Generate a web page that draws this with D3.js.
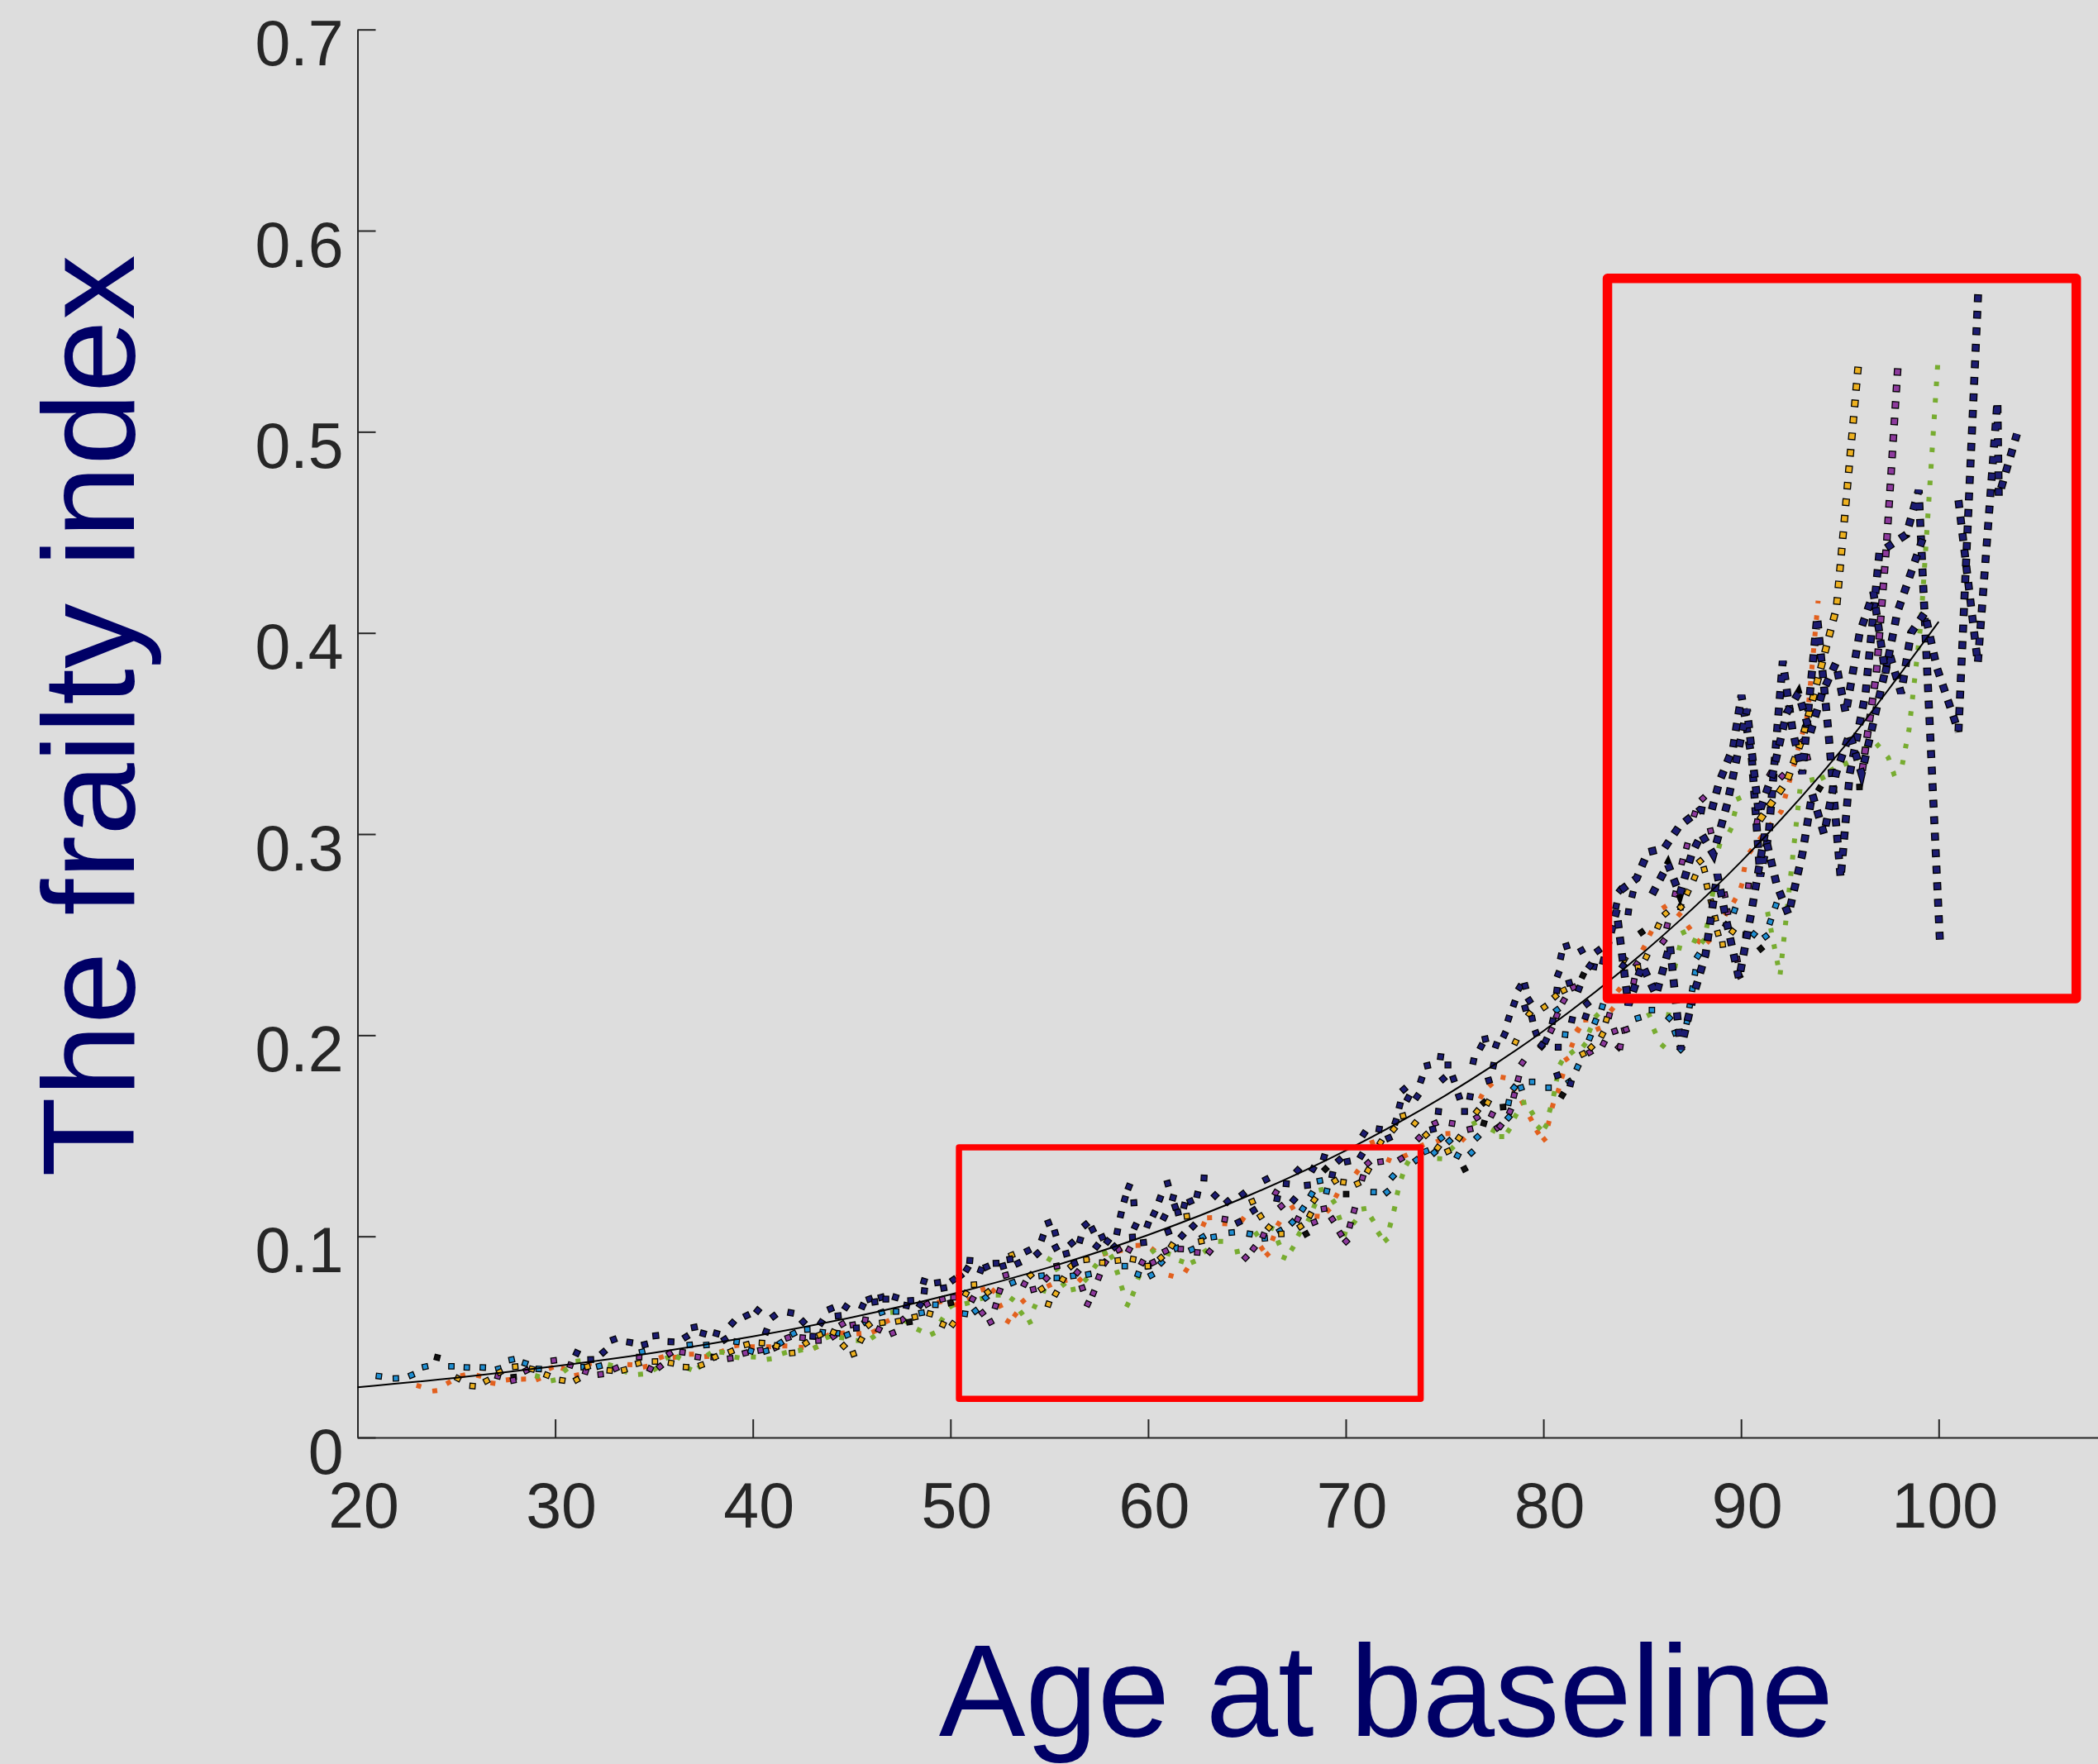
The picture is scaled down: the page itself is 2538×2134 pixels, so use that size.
<!DOCTYPE html>
<html>
<head>
<meta charset="utf-8">
<script src="https://cdn.jsdelivr.net/npm/d3@7"></script>
<style>
  html, body { margin: 0; padding: 0; background: #dddddd; }
  svg { display: block; }
</style>
</head>
<body>
<div id="chart"></div>
<script>
// [age, frailty index], one array per colour
const navyPts = [
  [31.09,.042],[31.8,.0387],[32.44,.0424],[32.96,.0487],[33.77,.0473],[34.53,.0462],[35.09,.0506],[35.86,.0476],[36.62,.05],[37.04,.0548],[37.49,.0517],[38.16,.0517],[38.58,.0487],[38.97,.0569],[39.69,.0606],[40.25,.0631],[40.67,.0526],[41.06,.0603],
  [41.92,.062],[42.55,.0575],[43.04,.0503],[43.46,.0571],[43.94,.064],[44.32,.0605],[44.71,.0649],[45.24,.0544],[45.55,.0653],[45.9,.0688],[46.17,.0674],[46.5,.0697],[46.73,.0688],[47.22,.0697],[47.78,.0656],[47.99,.0681],[48.47,.066],[48.66,.0777],[48.68,.0729],[49.35,.077],[49.66,.0743],[50.15,.0784],[50.5,.0804],[50.84,.0838],[50.98,.088],[51.54,.0832],[51.82,.0848],[52.31,.0866],[52.66,.0852],[53.01,.0886],[53.42,.0866],[53.91,.0928],[54.4,.0914],[54.65,.0993],[54.96,.1067],[55.3,.1017],[55.33,.0944],[55.86,.0914],[56.14,.0966],[56.28,.0866],[56.56,.0982],[56.84,.1058],[57.19,.1034],[57.4,.0951],[57.68,.0996],[57.95,.0975],[58.3,.0948],[58.44,.1023],[58.62,.1108],[58.82,.1185],[59.03,.1247],[59.28,.1167],[59.21,.0996],[59.35,.1051],[59.77,.0969],[59.98,.1058],[60.3,.1113],[60.6,.1188],[60.81,.1095],[60.99,.1263],[61.02,.1023],[61.26,.1192],[61.37,.1147],[61.51,.1119],[61.72,.1003],[61.83,.1154],[62.14,.1174],[62.28,.1051],[62.49,.1208],[62.83,.129],
  [63.39,.1203],[64.02,.1173],[64.58,.107],[64.79,.121],[65.34,.1129],[65.97,.1283],[66.53,.1188],[66.99,.1262],[67.37,.1181],[67.57,.1328],[68.06,.1254],[68.34,.1335],[68.9,.1394],[69.32,.1306],[69.67,.1379],[70.08,.1372],[70.78,.1401],[70.92,.151],[71.69,.1533],[72.18,.1489],[72.52,.157],[72.73,.1651],[72.94,.1731],[73.15,.1687],[73.61,.1695],[73.82,.1778],[74.13,.1849],[74.41,.1533],[74.69,.1621],[74.8,.1893],[74.93,.1783],[75.17,.1852],[75.45,.1783],[75.73,.1695],[76.01,.1621],[76.29,.1695],[76.46,.1871],[76.85,.1944],[77.06,.1981],[77.24,.1775],[77.47,.1849],[77.61,.1951],[78.03,.2003],[78.24,.2083],[78.52,.2157],[78.8,.2238],[79.08,.2245],[79.08,.2135],[79.29,.2172],[79.43,.2083],[79.63,.201],[79.91,.1951],[80.12,.1973],[80.47,.207],[80.68,.2223],[80.89,.2392],[81.17,.2443],[81.31,.226],[81.8,.2231],[81.93,.2421],[82.21,.2157],[82.56,.2341],[82.77,.2421],[83.19,.2385],[83.68,.2642],[83.89,.2722],
  [80.75,.2304],[80.75,.194],[80.71,.18],[81.38,.176],[81.45,.2077],[82.14,.2093],[82.35,.2345],[84.03,.2345],[84.3,.2613],[84.51,.27]
];
const navyChainA = [[83.9,.272],[84.72,.278],[85.28,.291],[86.12,.293],[86.88,.304],[87.93,.312],[88.49,.311],[88.9,.326],[89.6,.343],[90.02,.369],[90.55,.337],[90.97,.279],[91.4,.30],[92.11,.386],[92.6,.352],[93.1,.33],[93.85,.408],[94.41,.352],[95.04,.278],[95.5,.33],[96.3,.37],[97.0,.44],[98.37,.449],[98.99,.471],[100.07,.245]];
const navyChainB = [[83.0,.235],[83.7,.262],[84.3,.215],[85.0,.235],[85.7,.22],[86.4,.245],[86.95,.193],[87.6,.22],[88.2,.24],[88.8,.28],[89.3,.255],[89.9,.228],[90.5,.26],[91.2,.30],[91.8,.275],[92.4,.26],[93.1,.29],[93.6,.32],[94.2,.30],[94.8,.33],[95.5,.35],[96.1,.33],[96.8,.36],[97.5,.39],[98.1,.37],[98.6,.40],[99.3,.41],[99.9,.383],[101.0,.351],[102.0,.5695]];
const navyChainC = [[85.5,.27],[86.3,.285],[86.9,.27],[87.5,.29],[88.0,.30],[88.6,.29],[89.3,.315],[90.3,.362],[90.9,.31],[91.6,.33],[92.3,.36],[92.9,.37],[93.5,.35],[94.1,.37],[94.8,.385],[95.3,.36],[96.0,.40],[96.7,.42],[97.3,.38],[97.9,.41],[98.6,.43],[99.3,.45]];
const navyChainD = [[101.0,.466],[101.98,.385],[102.97,.515],[103.04,.468],[103.96,.499]];

const yellowPts = [
  [25.08,.0294],[25.82,.0256],[26.53,.0282],[27.2,.0325],[27.98,.0352],[28.82,.034],[29.58,.031],[30.36,.0284],[31.09,.0287],[31.63,.0352],[32.76,.0333],[33.49,.0336],[34.21,.0369],[35.05,.0378],[35.86,.037],[36.62,.035],[37.39,.036],[38.09,.04],[38.9,.0428],[39.69,.0462],[40.46,.047],[41.2,.0455],
  [41.99,.042],[42.69,.0469],[43.39,.051],[44.08,.0523],[44.6,.0455],[45.09,.0416],[45.48,.0486],[45.87,.056],[46.55,.0571],[47.36,.0578],[48.2,.0599],[48.96,.0615],[49.62,.0562],[50.12,.0564],[50.78,.0715],[51.19,.076],[51.89,.0722],[53.1,.0907],[54.05,.0807],[54.61,.0738],[54.96,.0663],[55.33,.0715],[55.68,.0786],[56.11,.0852],[56.88,.0884],[57.68,.0869],[58.47,.088],[59.24,.0886],[59.98,.0852],[60.65,.0893],[61.2,.0955],[61.96,.11],[62.69,.0976],
  [65.27,.1173],[65.69,.11],[66.11,.1044],[66.74,.1012],[67.71,.1049],[68.2,.1107],[68.41,.1181],[69.46,.1276],[69.88,.1269],[70.6,.1262],[71.13,.1328],[71.76,.1467],[72.43,.1533],[72.9,.1599],[73.5,.1562],[74.06,.1504],[74.66,.1441],[75.17,.1423],[75.73,.1489],[76.64,.1621],[77.19,.1665],[78.59,.1966],[79.29,.2106],[80.05,.214],[80.61,.2194],[81.03,.2223],[82.0,.1907],[82.42,.194],[82.98,.2003],[83.19,.2077],[84.1,.2377],
  [84.79,.2337],[85.21,.239],[85.81,.2543],[86.19,.2605],[86.95,.2637],[87.3,.271],[87.65,.2784],[87.93,.2865],[88.14,.2824],[88.28,.274],[88.49,.2662],[88.7,.2581],[88.83,.2507],[89.07,.2451],[89.57,.2516]
];
const yellowTail = [[90.93,.3068],[92.32,.3263],[93.16,.3494],[94.83,.4125],[95.94,.534]];

const purplePts = [
  [27.1,.0305],[27.88,.0284],[28.54,.0333],[29.93,.0383],[30.77,.036],[31.54,.0328],[32.3,.0314],[33.07,.0344],[34.25,.04],[34.81,.0341],[35.3,.0352],[35.79,.0417],[36.44,.0424],[37.22,.04],[38.02,.04],[38.86,.0393],[39.62,.042],[40.39,.0434],[41.16,.0448],
  [41.78,.0496],[42.52,.0496],[43.32,.0482],[44.08,.0503],[44.53,.0564],[45.06,.056],[45.69,.0585],[46.38,.0537],[47.08,.0519],[47.57,.0585],[48.82,.0663],[49.59,.0688],[50.15,.0697],[51.12,.0688],[51.61,.0619],[52.03,.0574],[52.28,.0654],[52.49,.0729],[52.8,.0807],[53.74,.0763],[54.19,.0736],[54.86,.0791],[55.38,.0852],[56.42,.0821],[56.67,.0743],[56.95,.0664],[57.23,.0718],[57.51,.0797],[57.82,.087],[58.51,.0934],[59.04,.0934],[59.7,.087],[60.25,.087],[60.88,.0927],[61.65,.0937],[62.49,.092],
  [63.11,.0924],[63.88,.1085],[64.93,.0894],[65.34,.094],[65.83,.1005],[66.46,.1217],[66.74,.115],[67.57,.1085],[68.41,.107],[68.9,.1137],[69.32,.1085],[69.74,.1012],[70.02,.0975],[70.22,.1056],[70.43,.1129],[70.85,.1291],[71.13,.1364],[71.76,.1371],[72.8,.1386],[73.71,.1489],[74.52,.1562],[75.38,.1562],[76.29,.1533],[76.64,.1591],[77.4,.1606],[77.68,.154],[77.82,.1548],[78.31,.1621],[78.52,.1702],[78.73,.1783],[78.94,.1863],[79.91,.1944],[80.4,.2025],[80.68,.2098],[81.03,.2172],[81.52,.2238],[82.35,.1915],[83.05,.1959],[83.33,.2098],[83.82,.194],[84.1,.2025],
  [83.61,.202],[84.19,.2028],[83.89,.1943],[84.58,.2268],[84.72,.2353],[86.07,.2467],[86.26,.2545],[86.67,.2702],[87.02,.2862],[87.26,.2941],[87.65,.31],[88.07,.3177],[88.46,.3016],[89.18,.2698],[89.32,.2613],[89.81,.2377],[89.92,.2296],[90.02,.2337],[90.23,.2499],[90.37,.2743],[90.81,.306],[91.48,.3299],[92.08,.3288],[93.13,.3462],[93.36,.338]
];
const purpleTail = [[96.13,.3315],[96.85,.38],[97.37,.445],[97.95,.535]];

const bluePts = [
  [21.08,.0305],[21.94,.0294],[22.73,.031],[23.42,.0352],[24.75,.0354],[25.53,.0348],[26.34,.0348],[27.13,.0341],[27.8,.0387],[28.48,.0369],[29.17,.0341],[31.44,.035],[32.23,.0355],[34.4,.0426],[36.81,.046],[37.65,.046],[39.18,.0476],[39.9,.043],[40.67,.043],[41.4,.047],
  [42.06,.0517],[42.76,.0537],[43.53,.0523],[44.26,.0519],[44.78,.051],[45.69,.0574],[46.52,.0622],[47.25,.0626],[48.54,.062],[49.24,.066],[50.73,.0615],[51.26,.0629],[51.78,.0695],[53.15,.077],[54.61,.0804],[55.38,.0793],[56.21,.0804],[56.98,.0811],[58.82,.0852],[59.49,.0811],[60.16,.0807],[60.67,.087],[61.44,.0941],[62.21,.0934],[62.76,.0996],
  [63.32,.0997],[64.23,.1019],[65.14,.1012],[65.9,.099],[66.67,.1027],[67.3,.107],[67.83,.1137],[68.27,.121],[68.69,.1276],[69.04,.1225],[71.41,.122],[72.08,.122],[72.38,.1298],[73.57,.1379],[74.06,.1423],[74.48,.1416],[74.83,.1489],[75.24,.1474],[75.66,.1401],[76.36,.1416],[76.66,.1493],[78.24,.1591],[78.24,.1665],[78.52,.1739],[78.87,.1739],[79.43,.1768],[80.26,.1739],[81.31,.1768],[81.73,.1841],[82.35,.1988],[82.63,.2069],[82.98,.2142],
  [80.68,.2125],[81.1,.2003],[84.79,.2085],[85.49,.2125],[86.37,.2085],[86.67,.2012],[86.95,.193],[87.27,.2069],[87.41,.215],[87.54,.2231],[87.68,.2312],[87.82,.2394],[89.25,.2548],[89.67,.2621],[90.65,.2502],[91.25,.2491],[91.48,.2564],[91.76,.2645]
];

const orangePts = [
  [23.1,.0256],[23.91,.0232],[24.61,.0273],[25.33,.0309],[26.14,.0307],[26.85,.027],[27.63,.0287],[28.4,.029],[29.14,.029],[29.79,.0346],[30.42,.0342],[31.09,.031],[31.72,.0366],[33.78,.0362],[34.56,.0352],[35.37,.0399],[36.07,.0399],[36.9,.0414],[37.67,.0403],[38.44,.0428],[39.18,.0457],[39.97,.0451],[40.8,.0451],
  [41.62,.0455],[42.45,.0448],[43.18,.0448],[43.76,.0506],[44.53,.0519],[45.37,.0516],[46.13,.0527],[46.8,.0578],[49.45,.0674],[50.22,.066],[50.98,.0688],[51.65,.0736],[52.17,.0729],[52.52,.0654],[52.91,.0578],[53.28,.061],[53.68,.0678],[55.0,.0756],[55.79,.078],[56.56,.0784],[56.91,.0886],[57.82,.0914],[58.58,.0928],[59.49,.0955],[60.25,.0934],[60.67,.0866],[61.16,.0804],[61.93,.0832],[62.81,.106],
  [63.11,.1093],[63.88,.1063],[64.79,.1085],[65.76,.094],[66.04,.091],[66.32,.099],[66.6,.1063],[67.3,.1144],[67.85,.1137],[68.55,.11],[69.11,.1129],[69.53,.1203],[69.88,.1269],[70.57,.132],[71.34,.1467],[72.18,.1379],[73.01,.1401],[73.85,.1452],[74.69,.1474],[75.17,.1511],[75.94,.1482],[76.85,.1695],[77.33,.1753],[77.96,.179],[78.52,.1731],[78.94,.1665],[79.36,.1584],[79.71,.1518],[80.05,.1482],[80.26,.1562],[80.47,.165],[80.75,.1724],[80.96,.1797],[81.45,.1951],[81.77,.2025],[82.14,.2076],[82.77,.2032],[83.47,.2128],[84.1,.2186],
  [81.17,.1881],[81.73,.2028],[83.82,.2226],[85.07,.2434],[85.42,.2507],[86.12,.2637],[86.88,.26],[87.37,.2535],[87.86,.2467],[88.35,.2467],[89.25,.2605],[89.67,.267],[90.02,.2743],[90.16,.2824]
];
const orangeTail = [[90.41,.2906],[92.04,.3114],[93.37,.3596],[93.9,.416]];

const greenPts = [
  [29.1,.0305],[29.9,.0284],[30.52,.0335],[31.16,.038],[32.79,.036],[33.53,.0328],[34.32,.0314],[35.06,.0341],[35.69,.0398],[36.23,.0398],[36.79,.0341],[37.32,.0352],[37.78,.0414],[38.44,.0424],[39.2,.0398],[40.03,.04],[40.83,.039],[41.6,.042],
  [42.41,.0434],[43.18,.0448],[43.8,.0499],[44.5,.0496],[45.34,.0482],[46.08,.0499],[46.59,.0569],[47.08,.0623],[47.75,.0578],[48.41,.0534],[49.1,.0516],[49.56,.0585],[50.04,.0653],[50.84,.0667],[51.61,.0692],[52.42,.0708],[53.12,.0688],[53.59,.0619],[54.02,.0574],[54.26,.0651],[54.72,.0729],[55.0,.0886],[55.38,.0838],[55.72,.076],[56.21,.0736],[56.84,.0784],[57.33,.0852],[57.82,.0917],[58.16,.0897],[58.44,.0821],[58.68,.0743],[58.96,.066],[59.24,.0715],[59.52,.0797],[60.25,.0927],[61.02,.0914],[61.69,.0876],[62.28,.0873],[62.9,.0927],
  [63.67,.0975],[64.51,.0924],[65.48,.1012],[66.25,.1041],[66.6,.0968],[66.88,.0894],[67.3,.094],[67.64,.1012],[68.13,.1085],[68.41,.1151],[68.76,.1232],[69.39,.1173],[69.67,.1093],[69.95,.1012],[70.43,.107],[70.92,.1137],[71.34,.1085],[71.69,.1012],[72.04,.0982],[72.25,.1056],[72.46,.1137],[72.62,.1217],[72.85,.1298],[73.12,.1364],[73.71,.1445],[74.75,.1386],[75.38,.1438],[76.5,.1562],[77.47,.1526],[77.89,.1496],[78.24,.1526],[78.59,.1599],[79.01,.1665],[79.43,.1614],[79.78,.154],[80.12,.1548],[80.33,.1628],[80.54,.1709],[80.68,.1783],[80.89,.1863],[81.45,.1915],[82.07,.1951],[82.35,.2025],[82.7,.2098],
  [84.58,.2239],[85.35,.2101],[85.63,.202],[86.05,.1947],[86.33,.2101],[86.67,.2345],[86.88,.2434],[87.09,.2511],[87.65,.247],[88.07,.2467],[88.28,.2545],[88.56,.2702],[88.9,.2941],[89.46,.302],[89.67,.3101],[89.88,.3177],
  [93.6,.327],[94.13,.328],[94.6,.332],[95.3,.335],[95.9,.338],[96.3,.343]
];
const greenTailA = [[91.34,.2613],[91.97,.2296],[92.99,.3231]];
const greenTailB = [[96.85,.345],[97.45,.338],[97.73,.33],[98.1,.3315],[98.5,.352],[99.1,.405],[99.96,.535]];

const blackPts = [[24.03,.0398],[27.9,.03],[47.92,.0574],[50.01,.067],[60.0,.0852],[67.99,.1012],[68.97,.1335],[70.02,.121],[76.01,.1335],[76.99,.1562],[76.99,.1665],[77.96,.1643],[80.96,.1702],[82.0,.2297],[84.97,.2512],[86.95,.2637],[91.0,.243],[93.97,.3227],[95.99,.3234]];

// fitted curve, read every 5 years
const fitAges = [20,25,30,35,40,45,50,55,60,65,70,75,80,85,90,95,100];
const fitValues = [.025,.0297,.0354,.0421,.0502,.0597,.0711,.0846,.1007,.1199,.1427,.1698,.2021,.2406,.2863,.3408,.4056];

// highlighted areas
const boxes = [
  { ages: [50.43, 73.79], vals: [0.0192, 0.1442], sw: 7.5 },
  { ages: [83.24, 106.96], vals: [0.2182, 0.5763], sw: 11.5 },
];

const xTicks = [20,30,40,50,60,70,80,90,100];
const yTicks = [0,0.1,0.2,0.3,0.4,0.5,0.6,0.7];

const width = 2538, height = 2134;
const font = "'Liberation Sans', Arial, Helvetica, sans-serif";
const axisColor = "#262626";

const svg = d3.select("#chart").append("svg")
  .attr("width", width).attr("height", height)
  .style("background", "#dddddd");

const x = d3.scaleLinear().domain([20, 108.06]).range([432.5, 2538]);
const y = d3.scaleLinear().domain([0, 0.7]).range([1739, 35.7]);

// axes, ticks pointing inward
const xAxis = svg.append("g")
  .attr("transform", `translate(0, ${y(0)})`)
  .call(d3.axisBottom(x).tickValues(xTicks).tickSizeInner(-22).tickSizeOuter(0).tickPadding(54).tickFormat(d3.format("d")));
xAxis.selectAll("text").attr("dx", 7);

const yAxis = svg.append("g")
  .attr("transform", `translate(${x(20)}, 0)`)
  .call(d3.axisLeft(y).tickValues(yTicks).tickSizeInner(-22).tickSizeOuter(0).tickPadding(17)
    .tickFormat(d => d === 0 ? "0" : d3.format(".1f")(d)));
yAxis.selectAll("text").attr("dy", "0.56em");

svg.selectAll(".domain, .tick line").attr("stroke", axisColor).attr("stroke-width", 2);
svg.selectAll(".tick text")
  .attr("fill", axisColor)
  .style("font-family", font)
  .style("font-size", "77px");

// dots
const plot = svg.append("g");
const drawDots = (pts, st) => {
  const px = pts.map(d => [x(d[0]), y(d[1])]);
  const angle = (i) => {
    const b = px[i + 1] || px[i], c = px[i - 1] || px[i];
    return Math.atan2(b[1] - c[1], b[0] - c[0]) * 180 / Math.PI;
  };
  plot.append("g").selectAll("rect").data(px).join("rect")
    .attr("x", -st.size / 2).attr("y", -st.size / 2)
    .attr("width", st.size).attr("height", st.size)
    .attr("transform", (d, i) => `translate(${d[0]},${d[1]}) rotate(${angle(i)})`)
    .attr("fill", st.fill)
    .attr("stroke", st.border ? "#000" : "none")
    .attr("stroke-width", st.border ? 1.3 : 0);
};
// dotted lines for the long streaks at the old ages
const line = d3.line().x(d => x(d[0])).y(d => y(d[1]));
const drawChain = (pts, st) => {
  const period = 20;
  if (st.border) {
    const w = st.size + 2.6;
    plot.append("path").attr("d", line(pts)).attr("fill", "none")
      .attr("stroke", "#000").attr("stroke-width", w)
      .attr("stroke-dasharray", `${w} ${period - w}`);
    plot.append("path").attr("d", line(pts)).attr("fill", "none")
      .attr("stroke", st.fill).attr("stroke-width", st.size)
      .attr("stroke-dasharray", `${st.size} ${period - st.size}`)
      .attr("stroke-dashoffset", -1.3);
  } else {
    plot.append("path").attr("d", line(pts)).attr("fill", "none")
      .attr("stroke", st.fill).attr("stroke-width", st.size)
      .attr("stroke-dasharray", `${st.size - 0.5} ${period - st.size + 0.5}`);
  }
};

const styles = {
  orange: { fill: "#e2601e", size: 6, border: false },
  green: { fill: "#77ac30", size: 6, border: false },
  black: { fill: "#111111", size: 6.5, border: true },
  blue: { fill: "#1f8fd3", size: 6.5, border: true },
  purple: { fill: "#8e3a9e", size: 6.5, border: true },
  yellow: { fill: "#edb120", size: 6.5, border: true },
  navy: { fill: "#1c1c72", size: 7, border: true },
};

drawDots(orangePts, styles.orange);
drawChain(orangeTail, styles.orange);
drawDots(greenPts, styles.green);
drawChain(greenTailA, styles.green);
drawChain(greenTailB, styles.green);
drawDots(blackPts, styles.black);
drawDots(bluePts, styles.blue);
drawDots(purplePts, styles.purple);
drawChain(purpleTail, styles.purple);
drawDots(yellowPts, styles.yellow);
drawChain(yellowTail, styles.yellow);
drawDots(navyPts, styles.navy);
[navyChainA, navyChainB, navyChainC, navyChainD].forEach(c => drawChain(c, styles.navy));

// fitted curve
const fit = fitAges.map((a, i) => [a, fitValues[i]]);
svg.append("path")
  .attr("d", d3.line().x(d => x(d[0])).y(d => y(d[1])).curve(d3.curveMonotoneX)(fit))
  .attr("fill", "none").attr("stroke", "#000").attr("stroke-width", 2);

// red boxes
svg.append("g").selectAll("rect").data(boxes).join("rect")
  .attr("x", d => x(d.ages[0])).attr("y", d => y(d.vals[1]))
  .attr("width", d => x(d.ages[1]) - x(d.ages[0]))
  .attr("height", d => y(d.vals[0]) - y(d.vals[1]))
  .attr("fill", "none").attr("stroke", "#ff0000")
  .attr("stroke-width", d => d.sw).attr("stroke-linejoin", "round");

// axis titles
svg.append("text")
  .attr("x", 1677).attr("y", 2100)
  .attr("text-anchor", "middle")
  .attr("fill", "#000066")
  .style("font-family", font).style("font-size", "157px")
  .text("Age at baseline");

svg.append("text")
  .attr("transform", "translate(162, 866) rotate(-90)")
  .attr("text-anchor", "middle")
  .attr("fill", "#000066")
  .style("font-family", font).style("font-size", "158px")
  .text("The frailty index");
</script>
</body>
</html>
